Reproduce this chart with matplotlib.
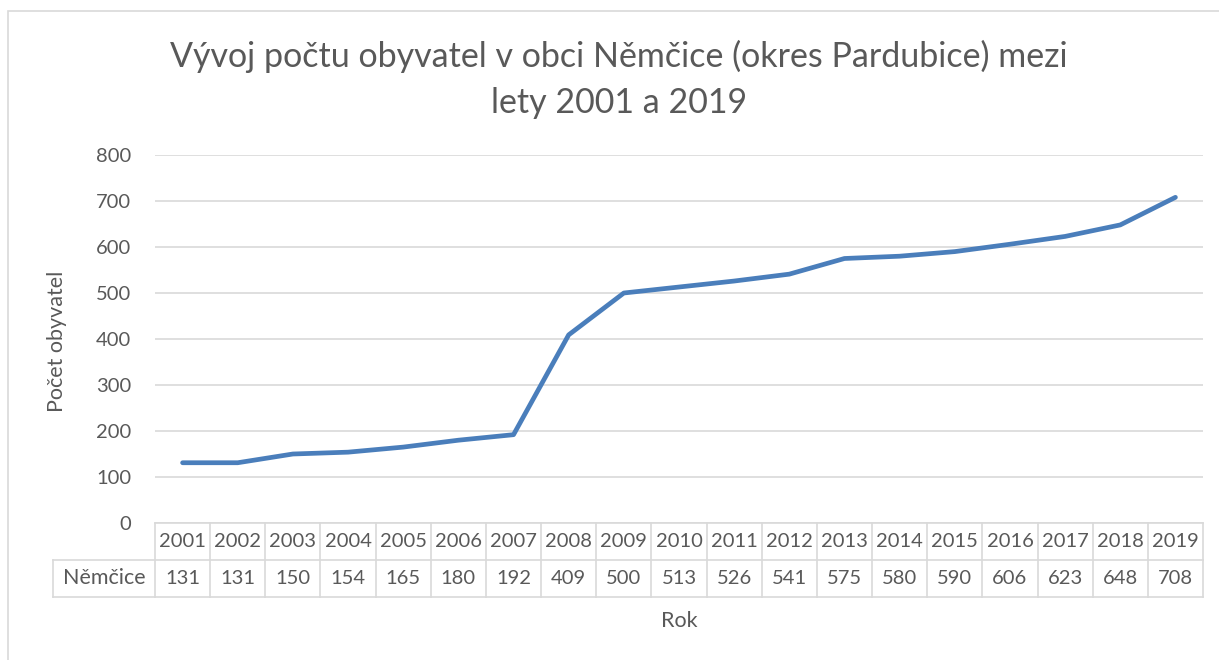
import matplotlib.pyplot as plt
import matplotlib.transforms as mtransforms
from matplotlib.patches import Rectangle

plt.rcParams['font.family'] = ['Lato', 'DejaVu Sans']

# data
roky = ['2001', '2002', '2003', '2004', '2005', '2006', '2007', '2008', '2009', '2010',
        '2011', '2012', '2013', '2014', '2015', '2016', '2017', '2018', '2019']
obyvatel = [131, 131, 150, 154, 165, 180, 192, 409, 500, 513,
            526, 541, 575, 580, 590, 606, 623, 648, 708]
serie = 'Němčice'
y_ticks = [0, 100, 200, 300, 400, 500, 600, 700, 800]
titulek = ['Vývoj počtu obyvatel v obci Němčice (okres Pardubice) mezi', 'lety 2001 a 2019']

text_col = '#595959'
grid_col = '#d9d9d9'
line_col = '#4a7ebb'

W, H = 1219, 660
fig = plt.figure(figsize=(W / 100, H / 100), dpi=100)

# ramecek grafu
fig.patches.append(Rectangle((7.5 / W, -0.1), 1.2, 1 - 11 / H + 0.1, transform=fig.transFigure,
                             fill=False, edgecolor=grid_col, linewidth=1.2))

ax = fig.add_axes([155 / W, 1 - 523 / H, (1203 - 155) / W, (523 - 155) / H])
x = list(range(len(roky)))
ax.plot(x, obyvatel, color=line_col, linewidth=3.4, solid_capstyle='round')
ax.set_xlim(-0.5, len(roky) - 0.5)
ax.set_ylim(0, 800)
ax.set_yticks(y_ticks)
ax.set_xticks([])
ax.tick_params(axis='y', length=0, labelsize=14.5, labelcolor=text_col, pad=17)
ax.grid(axis='y', color=grid_col, linewidth=1.2)
for s in ['top', 'right', 'left']:
    ax.spines[s].set_visible(False)
ax.spines['bottom'].set_color(grid_col)
ax.spines['bottom'].set_linewidth(1.2)

# tabulka dat pod grafem
tr = mtransforms.blended_transform_factory(ax.transData, ax.transAxes)
row_h = 37 / (523 - 155)
left_x = -0.5 - (155 - 53) / ((1203 - 155) / len(roky))
kw = dict(color=grid_col, linewidth=1.2, transform=tr, clip_on=False)
for i in range(len(roky) + 1):
    ax.plot([i - 0.5, i - 0.5], [0, -2 * row_h], **kw)
ax.plot([left_x, len(roky) - 0.5], [-row_h, -row_h], **kw)
ax.plot([left_x, len(roky) - 0.5], [-2 * row_h, -2 * row_h], **kw)
ax.plot([left_x, left_x], [-row_h, -2 * row_h], **kw)
for i, (r, v) in enumerate(zip(roky, obyvatel)):
    ax.text(i, -0.5 * row_h, r, transform=tr, ha='center', va='center',
            fontsize=14.5, color=text_col, clip_on=False)
    ax.text(i, -1.5 * row_h, str(v), transform=tr, ha='center', va='center',
            fontsize=14.5, color=text_col, clip_on=False)
ax.text((left_x - 0.5) / 2, -1.5 * row_h, serie, transform=tr, ha='center', va='center',
        fontsize=15.5, color=text_col, clip_on=False)

fig.text(679 / W, 1 - 627 / H, 'Rok', ha='center', va='baseline', fontsize=15.5, color=text_col)
fig.text(57 / W, 1 - 341 / H, 'Počet obyvatel', ha='center', va='center', rotation=90,
         fontsize=15.5, color=text_col)
fig.text(619 / W, 1 - 67 / H, titulek[0], ha='center', va='baseline', fontsize=24.5, color=text_col)
fig.text(619 / W, 1 - 113 / H, titulek[1], ha='center', va='baseline', fontsize=24.5, color=text_col)

fig.savefig('out.png', dpi=100)
